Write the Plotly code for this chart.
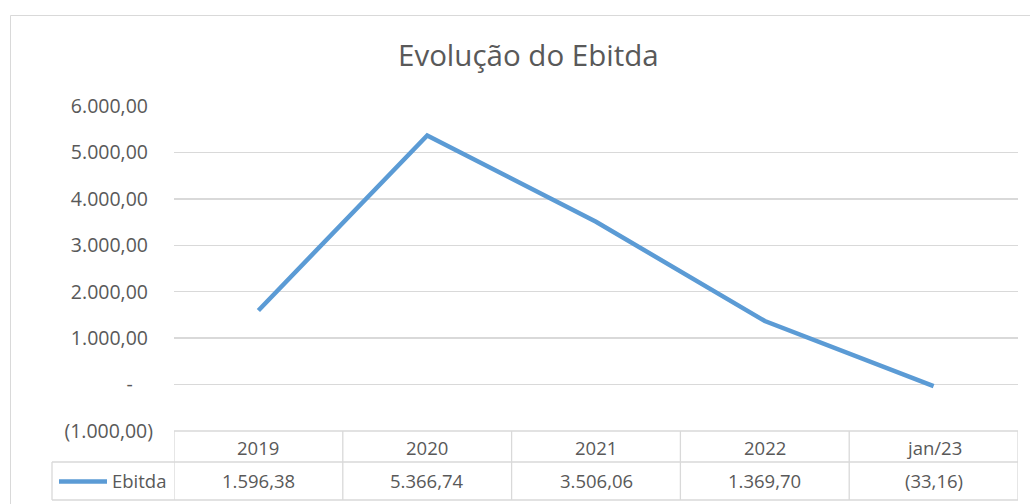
import plotly.graph_objects as go

categories = ["2019", "2020", "2021", "2022", "jan/23"]
ebitda = [1596.38, 5366.74, 3506.06, 1369.70, -33.16]
series_name = "Ebitda"
title_text = "Evolução do Ebitda"
y_ticks = [-1000, 0, 1000, 2000, 3000, 4000, 5000, 6000]


def fmt(v, tick=False):
    if v == 0:
        return "-\u00a0\u00a0\u00a0\u00a0" if tick else "-"
    s = f"{abs(v):,.2f}".replace(",", "X").replace(".", ",").replace("X", ".")
    if v < 0:
        return f"({s})"
    return s + ("\u00a0" if tick else "")


W, H = 1030, 504
L, R, T, B = 174, 1018, 106, 431
FONT = "Open Sans"
GRAY = "#595959"
GRID = "#D9D9D9"
BLUE = "#5B9BD5"


def px(x):
    return (x - L) / (R - L)


def py(y):
    return (B - y) / (B - T)


fig = go.Figure()
fig.add_trace(go.Scatter(
    x=list(range(len(categories))), y=ebitda, mode="lines", name=series_name,
    line=dict(color=BLUE, width=4.5), hoverinfo="skip", showlegend=False,
))

shapes = []
annotations = []

# chart border
shapes.append(dict(type="rect", xref="paper", yref="paper",
                   x0=px(10.5), x1=px(1040), y0=py(15.5), y1=py(520),
                   line=dict(color=GRID, width=1), fillcolor="rgba(0,0,0,0)", layer="below"))

# table rows
row_top, row_mid, row_bot = 431, 462, 500
leg_left = 52
n = len(categories)
shapes.append(dict(type="line", xref="x", yref="paper", x0=-0.5, x1=n - 0.5,
                   y0=py(row_top), y1=py(row_top), line=dict(color=GRID, width=1.3)))
for yy in (row_mid, row_bot):
    shapes.append(dict(type="line", xref="paper", yref="paper", x0=px(leg_left), x1=1,
                       y0=py(yy), y1=py(yy), line=dict(color=GRID, width=1.3)))
for i in range(n + 1):
    shapes.append(dict(type="line", xref="x", yref="paper", x0=i - 0.5, x1=i - 0.5,
                       y0=py(row_top), y1=py(row_bot), line=dict(color=GRID, width=1.3)))
shapes.append(dict(type="line", xref="paper", yref="paper", x0=px(leg_left), x1=px(leg_left),
                   y0=py(row_mid), y1=py(row_bot), line=dict(color=GRID, width=1.3)))
# legend key
shapes.append(dict(type="line", xref="paper", yref="paper", x0=px(59), x1=px(107),
                   y0=py(481.5), y1=py(481.5), line=dict(color=BLUE, width=4.5)))

for i, (c, v) in enumerate(zip(categories, ebitda)):
    annotations.append(dict(x=i, xref="x", y=py(447), yref="paper", text=c, showarrow=False,
                            font=dict(family=FONT, size=18.5, color=GRAY), xanchor="center", yanchor="middle"))
    annotations.append(dict(x=i, xref="x", y=py(481), yref="paper", text=fmt(v), showarrow=False,
                            font=dict(family=FONT, size=18.5, color=GRAY), xanchor="center", yanchor="middle"))
annotations.append(dict(x=px(168), xref="paper", y=py(481), yref="paper", text=series_name,
                        showarrow=False, font=dict(family=FONT, size=18.5, color=GRAY),
                        xanchor="right", yanchor="middle"))
annotations.append(dict(x=px(528), xref="paper", y=py(55), yref="paper", text=title_text,
                        showarrow=False, font=dict(family=FONT, size=29.5, color=GRAY),
                        xanchor="center", yanchor="middle"))

fig.update_layout(
    width=W, height=H,
    margin=dict(l=L, r=W - R, t=T, b=H - B, pad=0),
    paper_bgcolor="white", plot_bgcolor="white",
    shapes=shapes, annotations=annotations,
    xaxis=dict(range=[-0.5, n - 0.5], showgrid=False, zeroline=False, showline=False,
               showticklabels=False, ticks="", fixedrange=True),
    yaxis=dict(range=[-1000, 6000], tickvals=y_ticks,
               ticktext=[fmt(v, tick=True) for v in y_ticks],
               showgrid=True, gridcolor=GRID, gridwidth=1.3, zeroline=False, showline=False,
               ticks="", ticklabelstandoff=20,
               tickfont=dict(family=FONT, size=19.5, color=GRAY), fixedrange=True),
    showlegend=False,
)

fig.write_html("out.html", config={"displayModeBar": False, "staticPlot": True})

# remove the default page margin so the figure sits at the window's origin
with open("out.html", "r", encoding="utf-8") as f:
    html = f.read()
html = html.replace("<body>", '<body style="margin:0;padding:0;overflow:hidden">', 1)
with open("out.html", "w", encoding="utf-8") as f:
    f.write(html)
